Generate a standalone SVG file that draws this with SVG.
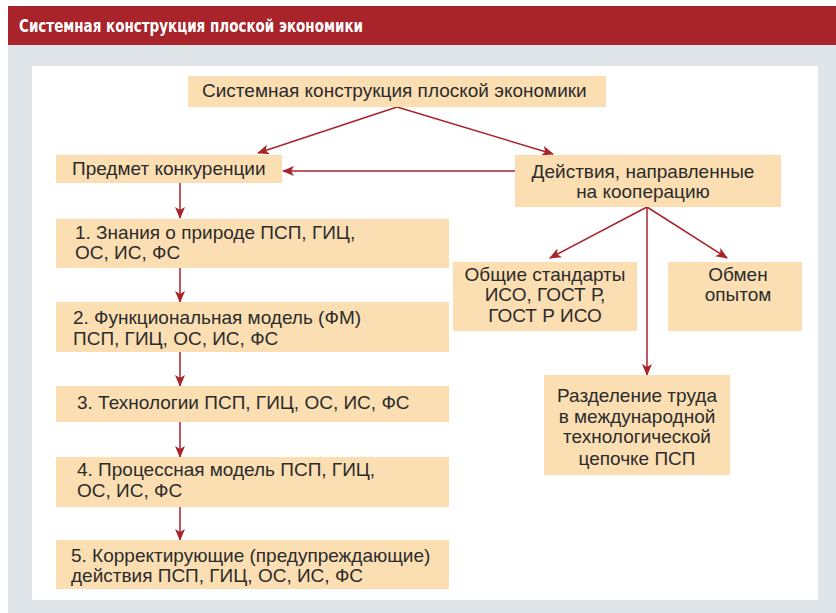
<svg xmlns="http://www.w3.org/2000/svg" width="836" height="613" viewBox="0 0 836 613">
<style>
.box{fill:#fbdfb3}
.t{font-family:"Liberation Sans",Arial,sans-serif;font-size:19px;fill:#2b2b2b}
.c{text-anchor:middle}
.ln{stroke:#a8232a;stroke-width:1.5;fill:none;marker-end:url(#ah)}
</style>
<defs>
<marker id="ah" viewBox="0 0 12 10" refX="11" refY="5" markerWidth="12" markerHeight="10" markerUnits="userSpaceOnUse" orient="auto">
<path d="M0,0 L12,5 L0,10 L3,5 z" fill="#a8232a"/>
</marker>
</defs>
<rect x="0" y="0" width="836" height="613" fill="#ffffff"/>
<rect x="8" y="45" width="828" height="568" fill="#dfe5e8"/>
<rect x="8" y="6" width="828" height="39" fill="#a8232a"/>
<text x="19" y="32" font-family="'Liberation Sans Narrow','DejaVu Sans Condensed','Liberation Sans',sans-serif" font-weight="bold" font-size="17" fill="#ffffff" textLength="344" lengthAdjust="spacingAndGlyphs">Системная конструкция плоской экономики</text>
<rect x="32" y="66" width="786" height="534" fill="#ffffff"/>

<g id="connectors">
<line class="ln" x1="397" y1="107" x2="258" y2="153"/>
<line class="ln" x1="397" y1="107" x2="553" y2="154"/>
<line class="ln" x1="515" y1="171" x2="283" y2="171"/>
<line class="ln" x1="180" y1="183" x2="180" y2="218"/>
<line class="ln" x1="180" y1="268" x2="180" y2="302"/>
<line class="ln" x1="180" y1="352" x2="180" y2="386"/>
<line class="ln" x1="180" y1="422" x2="180" y2="457"/>
<line class="ln" x1="180" y1="507" x2="180" y2="540"/>
<line class="ln" x1="647" y1="207" x2="550" y2="258"/>
<line class="ln" x1="647" y1="207" x2="727" y2="258"/>
<line class="ln" x1="647" y1="207" x2="647" y2="375"/>
</g>

<g id="top">
<rect class="box" x="188" y="76" width="418" height="31"/>
<text class="t" x="202" y="97">Системная конструкция плоской экономики</text>
</g>
<g id="predmet">
<rect class="box" x="56" y="155" width="226" height="28"/>
<text class="t" x="72" y="175">Предмет конкуренции</text>
</g>
<g id="deistviya">
<rect class="box" x="515" y="155" width="266" height="52"/>
<text class="t c" x="643" y="178">Действия, направленные</text>
<text class="t c" x="643" y="198">на кооперацию</text>
</g>
<g id="n1">
<rect class="box" x="56" y="219" width="393" height="49"/>
<text class="t" x="75" y="239">1. Знания о природе ПСП, ГИЦ,</text>
<text class="t" x="75" y="259">ОС, ИС, ФС</text>
</g>
<g id="n2">
<rect class="box" x="56" y="302" width="393" height="50"/>
<text class="t" x="73" y="324">2. Функциональная модель (ФМ)</text>
<text class="t" x="73" y="345">ПСП, ГИЦ, ОС, ИС, ФС</text>
</g>
<g id="n3">
<rect class="box" x="56" y="386" width="393" height="36"/>
<text class="t" x="77" y="409">3. Технологии ПСП, ГИЦ, ОС, ИС, ФС</text>
</g>
<g id="n4">
<rect class="box" x="56" y="457" width="393" height="50"/>
<text class="t" x="77" y="476">4. Процессная модель ПСП, ГИЦ,</text>
<text class="t" x="77" y="497">ОС, ИС, ФС</text>
</g>
<g id="n5">
<rect class="box" x="56" y="540" width="393" height="49"/>
<text class="t" x="71" y="562">5. Корректирующие (предупреждающие)</text>
<text class="t" x="71" y="582">действия ПСП, ГИЦ, ОС, ИС, ФС</text>
</g>
<g id="standarty">
<rect class="box" x="453" y="262" width="184" height="69"/>
<text class="t c" x="545" y="281">Общие стандарты</text>
<text class="t c" x="545" y="301">ИСО, ГОСТ Р,</text>
<text class="t c" x="545" y="322">ГОСТ Р ИСО</text>
</g>
<g id="obmen">
<rect class="box" x="668" y="262" width="134" height="69"/>
<text class="t c" x="738" y="281">Обмен</text>
<text class="t c" x="738" y="301">опытом</text>
</g>
<g id="razdelenie">
<rect class="box" x="544" y="375" width="186" height="100"/>
<text class="t c" x="637" y="402">Разделение труда</text>
<text class="t c" x="637" y="423">в международной</text>
<text class="t c" x="637" y="443">технологической</text>
<text class="t c" x="637" y="465">цепочке ПСП</text>
</g>
</svg>
